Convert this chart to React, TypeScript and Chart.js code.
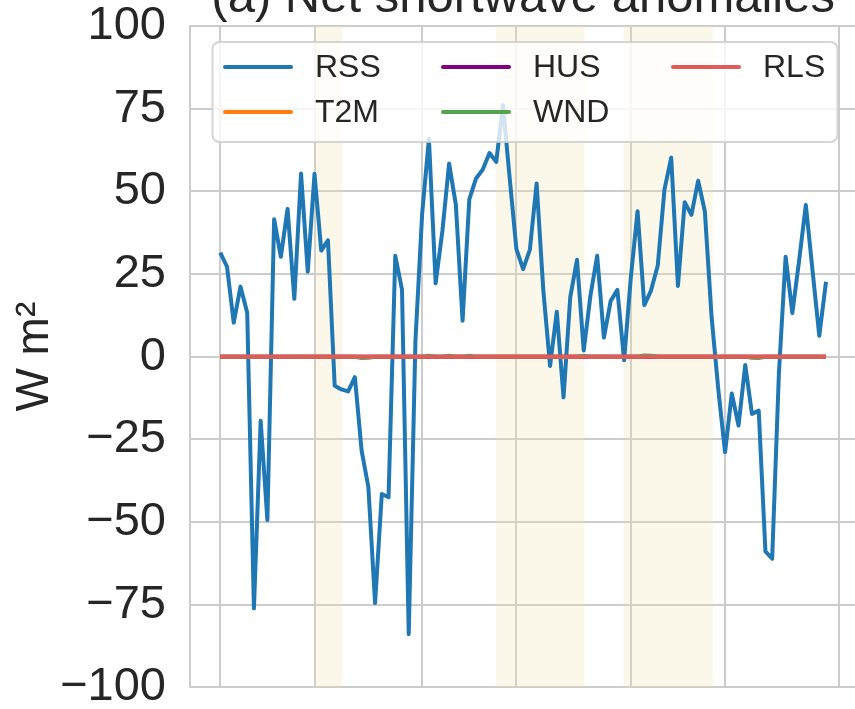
import React, { useEffect, useRef } from "react";
import { Chart, registerables } from "chart.js";

Chart.register(...registerables);

const TITLE = "(a) Net shortwave anomalies";
const Y_LABEL = "W m²";
const SERIES_NAMES = ["RSS", "T2M", "HUS", "WND", "RLS"];

const RSS = [
  31.5, 27.2, 10.3, 21.2, 13.3, -76.1, -19.4, -49.4, 41.6, 30.2,
  44.7, 17.5, 55.4, 25.7, 55.3, 32.1, 35.2, -8.8, -9.9, -10.5,
  -6.2, -28.4, -39.4, -74.5, -41.5, -42.5, 30.5, 20.3, -83.9, 5,
  43.4, 65.9, 22.2, 38, 58.4, 46, 10.9, 47.6, 53.9, 56.6,
  61.6, 58.9, 76.1, 54, 32.5, 26.5, 32.4, 52.4, 20, -2.8,
  13.6, -12.3, 18, 29.3, 1.9, 18.5, 30.5, 5.8, 16.8, 20.2,
  -1.1, 24, 44, 15.6, 20, 27.6, 50.6, 60.2, 21.4, 46.7,
  42.9, 53.2, 43.9, 12, -10, -28.9, -11.1, -20.8, -2.5, -17.3,
  -16.3, -58.9, -61.1, -5, 30.2, 13.2, 29, 45.9, 26, 6.3,
  22.7,
];
const T2M = [
  0, 0, 0, 0, 0, 0, 0, 0, 0, 0,
  0, 0, 0, 0, 0, 0, 0, 0, 0, 0,
  0, 0, 0, 0, 0, 0, 0, 0, 0, 0,
  0, 0, 0, 0, 0, 0, 0, 0, 0, 0,
  0, 0, 0, 0, 0, 0, 0, 0, 0, 0,
  0, 0, 0, 0, 0, 0, 0, 0, 0, 0,
  0, 0, 0, 0, 0, 0, 0, 0, 0, 0,
  0, 0, 0, 0, 0, 0, 0, 0, 0, 0,
  0, 0, 0, 0, 0, 0, 0, 0, 0, 0,
  0,
];
const HUS = [
  0, 0, 0, 0, 0, 0, 0, 0, 0, 0,
  0, 0, 0, 0, 0, 0, 0, 0, 0, 0,
  0, 0, 0, 0, 0, 0, 0, 0, 0, 0,
  0, 0, 0, 0, 0, 0, 0, 0, 0, 0,
  0, 0, 0, 0, 0, 0, 0, 0, 0, 0,
  0, 0, 0, 0, 0, 0, 0, 0, 0, 0,
  0, 0, 0, 0, 0, 0, 0, 0, 0, 0,
  0, 0, 0, 0, 0, 0, 0, 0, 0, 0,
  0, 0, 0, 0, 0, 0, 0, 0, 0, 0,
  0,
];
const WND = [
  0, 0, 0, 0, 0, 0, 0, 0, 0, 0,
  0, 0, 0, 0, 0, 0, 0, 0, 0, 0,
  0, -0.4, -0.3, 0, 0, 0, 0, 0, 0, 0,
  0, 0.3, 0, 0, 0.3, 0, 0, 0.3, 0, 0,
  0, 0, 0, 0, 0, 0, 0, 0, 0, 0,
  0, 0, 0, 0, 0.3, 0, 0, 0, 0, 0,
  0, 0, 0, 0.4, 0.3, 0, 0, 0, 0, 0,
  0, 0, 0, 0, 0, 0, 0, 0, 0, -0.3,
  -0.4, 0, 0, 0, 0, 0, 0, 0, 0, 0,
  0,
];
const RLS = [
  0, 0, 0, 0, 0, 0, 0, 0, 0, 0,
  0, 0, 0, 0, 0, 0, 0, 0, 0, 0,
  0, 0, 0, 0, 0, 0, 0, 0, 0, 0,
  0, 0, 0, 0, 0, 0, 0, 0, 0, 0,
  0, 0, 0, 0, 0, 0, 0, 0, 0, 0,
  0, 0, 0, 0, 0, 0, 0, 0, 0, 0,
  0, 0, 0, 0, 0, 0, 0, 0, 0, 0,
  0, 0, 0, 0, 0, 0, 0, 0, 0, 0,
  0, 0, 0, 0, 0, 0, 0, 0, 0, 0,
  0,
];

const X_TICKS = [0, 14, 30, 44, 61, 75, 92];
const BAND_START = [14, 40.9, 59.9];
const BAND_END = [18.1, 54.1, 73.2];

const FONT = "'Liberation Sans', Arial, Helvetica, sans-serif";
const TEXT = "#262626";
const GRID = "#cccccc";
const COLORS = ["#1f77b4", "#ff7f0e", "#800080", "#55a34b", "#e15b5b"];

const bandPlugin = {
  id: "bands",
  beforeDatasetsDraw(chart: any) {
    const { ctx, chartArea } = chart;
    const xs = chart.scales.x;
    ctx.save();
    ctx.fillStyle = "rgba(238,226,170,0.25)";
    for (let i = 0; i < BAND_START.length; i++) {
      const a = xs.getPixelForValue(BAND_START[i]);
      const b = xs.getPixelForValue(BAND_END[i]);
      ctx.fillRect(a, chartArea.top, b - a, chartArea.bottom - chartArea.top);
    }
    ctx.restore();
  },
};

const legendPlugin = {
  id: "boxLegend",
  afterDatasetsDraw(chart: any) {
    const { ctx, chartArea } = chart;
    const L = chartArea.left;
    const T = chartArea.top;
    ctx.save();
    const bx = L + 22.5, by = T + 16, bw = 625, bh = 100;
    ctx.beginPath();
    if ((ctx as any).roundRect) (ctx as any).roundRect(bx, by, bw, bh, 7);
    else ctx.rect(bx, by, bw, bh);
    ctx.fillStyle = "rgba(255,255,255,0.8)";
    ctx.fill();
    ctx.lineWidth = 2;
    ctx.strokeStyle = "rgba(204,204,204,0.8)";
    ctx.stroke();
    const cols = [35, 253, 483];
    const rows = [41, 86];
    const layout = [[0, 1], [2, 3], [4]];
    ctx.font = `32px ${FONT}`;
    ctx.textBaseline = "middle";
    ctx.textAlign = "left";
    layout.forEach((col, c) => {
      col.forEach((di, r) => {
        const ds = chart.data.datasets[di];
        const x0 = L + cols[c];
        const y0 = T + rows[r];
        ctx.beginPath();
        ctx.lineCap = "round";
        ctx.lineWidth = 4;
        ctx.strokeStyle = ds.borderColor;
        ctx.moveTo(x0, y0);
        ctx.lineTo(x0 + 66, y0);
        ctx.stroke();
        ctx.fillStyle = TEXT;
        ctx.fillText(ds.label, x0 + 90, y0 + 1);
      });
    });
    ctx.restore();
  },
};

function fmt(v: number) {
  return v < 0 ? "\u2212" + Math.abs(v) : String(v);
}

export default function App() {
  const ref = useRef<HTMLCanvasElement>(null);
  useEffect(() => {
    const canvas = ref.current;
    if (!canvas) return;
    const mk = (arr: number[]) => arr.map((v, i) => ({ x: i, y: v }));
    const all = [RSS, T2M, HUS, WND, RLS];
    const orders = [4, 3, 2, 1, 0];
    const chart = new Chart(canvas, {
      type: "line",
      data: {
        datasets: all.map((arr, i) => ({
          label: SERIES_NAMES[i],
          data: mk(arr),
          borderColor: COLORS[i],
          backgroundColor: COLORS[i],
          borderWidth: 4,
          pointRadius: 0,
          fill: false,
          tension: 0,
          order: orders[i],
        })),
      },
      options: {
        responsive: false,
        animation: false,
        events: [],
        layout: { padding: { left: 0, right: 13.7, top: 0, bottom: 42.6 } },
        elements: {
          line: { borderJoinStyle: "round", borderCapStyle: "butt" },
          point: { radius: 0 },
        },
        plugins: {
          legend: { display: false },
          tooltip: { enabled: false },
          title: {
            display: true,
            text: TITLE,
            fullSize: false,
            color: TEXT,
            font: { family: FONT, size: 49, weight: "normal", lineHeight: 1 },
            padding: { top: 14, bottom: 3 },
          },
        },
        scales: {
          x: {
            type: "linear",
            min: -4.5,
            max: 94.5,
            afterBuildTicks: (s: any) => {
              s.ticks = X_TICKS.map((v) => ({ value: v }));
            },
            ticks: { display: false },
            grid: { color: GRID, lineWidth: 2, drawTicks: false },
            border: { display: true, color: GRID, width: 2 },
          },
          y: {
            min: -100,
            max: 100,
            ticks: {
              stepSize: 25,
              padding: 24,
              color: TEXT,
              font: { family: FONT, size: 47 },
              callback: (v: any) => fmt(Number(v)),
            },
            grid: { color: GRID, lineWidth: 2, drawTicks: false },
            border: { display: true, color: GRID, width: 2 },
            title: {
              display: true,
              text: Y_LABEL,
              color: TEXT,
              font: { family: FONT, size: 46, lineHeight: 1 },
              padding: { top: 12, bottom: 0 },
            },
            afterFit: (s: any) => {
              s.width = 190;
              s.paddingTop = 0;
              s.paddingBottom = 0;
            },
          },
        },
      } as any,
      plugins: [bandPlugin, legendPlugin],
    });
    return () => chart.destroy();
  }, []);
  return (
    <div
      style={{
        position: "fixed",
        left: 0,
        top: 0,
        width: 855,
        height: 709,
        overflow: "hidden",
        background: "#ffffff",
      }}
    >
      <canvas
        ref={ref}
        width={870}
        height={770}
        style={{ position: "absolute", left: 0, top: -40, width: 870, height: 770 }}
      />
    </div>
  );
}
